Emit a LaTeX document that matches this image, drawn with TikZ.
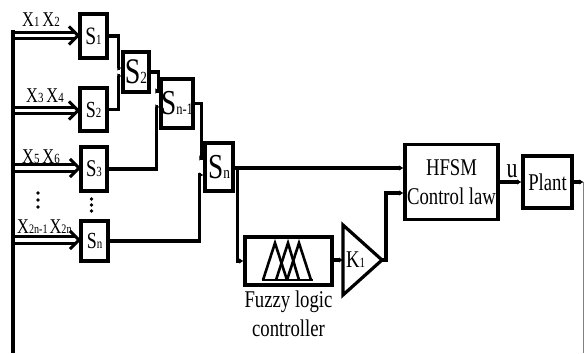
\documentclass[tikz,border=0pt]{standalone}
\usepackage{fontspec}
\setmainfont{Liberation Serif}[FakeStretch=0.78]
\usetikzlibrary{arrows.meta,calc}
\newcommand\myfs[1]{\fontsize{#1}{#1}\selectfont}
\newcommand\Slab[3]{{\myfs{#1}S\myfs{#2}#3}}
\newcommand\Xlab[1]{{\myfs{21}X\myfs{14}#1}}
\begin{document}
\begin{tikzpicture}[x=1pt,y=-1pt,
  blk/.style={draw, line width=3.2pt, inner sep=0pt, align=center},
  wire/.style={line width=3.2pt},
  conn/.style={line width=3.2pt, -{Latex[length=4pt,width=5.5pt]}},
  dbl/.style={double, double distance=3.6pt, line width=3pt},
  chev/.style={line width=3pt, line join=miter, line cap=butt},
  lab/.style={inner sep=0pt, anchor=base west},
  txt/.style={inner sep=0pt, anchor=base}]
\useasboundingbox (0,0) rectangle (585,353);
% first column blocks
\node[blk, minimum width=27pt, minimum height=44pt] (s1)  at (93.5,36)  {\Slab{25}{14}{1}};
\node[blk, minimum width=27pt, minimum height=43pt] (s2a) at (93.5,109.5) {\Slab{23}{14}{2}};
\node[blk, minimum width=26pt, minimum height=44pt] (s3)  at (94,169)   {\Slab{24}{14}{3}};
\node[blk, minimum width=27pt, minimum height=40pt] (sna) at (94.5,241) {\Slab{23}{14}{n}};
% later blocks
\node[blk, minimum width=26pt, minimum height=40pt, text depth=-3pt] (s2m)  at (136,72)    {\Slab{36}{17}{2}};
\node[blk, minimum width=30pt, minimum height=49pt] (snm1) at (177,103.5) {\Slab{35}{16}{n-1}};
\node[blk, minimum width=28pt, minimum height=48pt] (snb)  at (219,167)   {\Slab{35}{17}{n}};
\node[blk, minimum width=87pt, minimum height=48pt] (fuzzy) at (288.5,261) {};
\node[blk, minimum width=93pt, minimum height=75pt, font=\fontsize{24}{29}\selectfont] (hfsm) at (451.5,182) {HFSM\\Control law};
\node[blk, minimum width=49pt, minimum height=52pt, font=\fontsize{24}{29}\selectfont] (plant) at (547.5,182) {Plant};
% gain triangle
\draw[wire, line join=miter] (343,225) -- (382,260) -- (343,295) -- cycle;
\coordinate (gin) at (343,260);
\coordinate (gout) at (382,260);
\node[lab] (k1) at (346,267) {{\myfs{24}K\myfs{14}1}};
% fuzzy membership functions
\draw[line width=2.6pt] (262,280) -- (313,280);
\draw[line width=2.6pt, line join=miter] (263,280) -- (275,243) -- (287,280);
\draw[line width=2.6pt, line join=miter] (276,280) -- (288,243) -- (299,280);
\draw[line width=2.6pt, line join=miter] (287,280) -- (299,243) -- (311,280);
% labels
\node[txt] (fl1) at (288.5,307) {\myfs{24}Fuzzy logic};
\node[txt] (fl2) at (288.5,336) {\myfs{24}controller};
\node[txt] (u) at (512,177) {\myfs{28}u};
% input labels
\node[lab] (x12) at (22,27) {\Xlab{1}\hspace{3pt}\Xlab{2}};
\node[lab] (x34) at (26,102) {\Xlab{3}\hspace{3pt}\Xlab{4}};
\node[lab] (x56) at (22,163) {\Xlab{5}\hspace{3pt}\Xlab{6}};
\node[lab] (x2n) at (17,233) {{\myfs{21}X\myfs{13}2n-1}\hspace{2pt}{\myfs{21}X\myfs{13}2n}};
% vertical dots
\foreach \yy in {193,200,207} \fill (38,\yy) circle (1.9pt);
\foreach \yy in {199,205,211} \fill (91.5,\yy) circle (1.9pt);
% input bus coordinates and double arrows
\foreach \bx/\by/\nd in {b1/35.5/s1, b2/110.5/s2a, b3/168/s3, b4/240/sna}{
  \coordinate (\bx) at (13,\by);
  \draw[dbl] (\bx) -- ($(\nd.west |- \bx)+(-4,0)$);
  \draw[chev] ($(\nd.west |- \bx)+(-9.5,-9)$) -- ($(\nd.west |- \bx)+(-0.5,0)$) -- ($(\nd.west |- \bx)+(-9.5,9)$);
}
% feedback bus
\coordinate (fbL) at (13,353);
\coordinate (fbR) at (583.5,182);
\coordinate (fbRb) at (583.5,353);
\draw[wire] (13,30.5) -- (fbL);
\draw[line width=0.8pt, gray] (fbR) -- (fbRb);
% tree connections
\draw[conn] (s1.east) -- ++(10,0) |- ($(s2m.west)+(0,-4)$);
\draw[conn] (s2a.east) -- ++(10,0) |- ($(s2m.west)+(0,4)$);
\draw[conn] (s2m.east) -- ++(8,0) |- ($(snm1.west)+(0,-12.5)$);
\draw[conn] (s3.east) -- ++(48,0) |- ($(snm1.west)+(0,3.5)$);
\draw[conn] (snm1.east) -- ++(7,0) |- ($(snb.west)+(0,-9)$);
\draw[conn] (sna.east) -- ++(90,0) |- ($(snb.west)+(0,8)$);
% to controller
\coordinate (h1) at ($(hfsm.west)+(0,-14)$);
\coordinate (h2) at ($(hfsm.west)+(0,11)$);
\draw[conn] (snb.east |- h1) -- (h1);
\draw[conn] ($(snb.east |- h1)+(3,0)$) |- (fuzzy.west);
\draw[conn] (fuzzy.east |- gin) -- (gin);
\draw[conn] (gout) -- ++(4,0) |- (h2);
\draw[conn] (hfsm.east) -- (plant.west);
\draw[conn] (plant.east) -- (fbR);
\end{tikzpicture}
\end{document}
